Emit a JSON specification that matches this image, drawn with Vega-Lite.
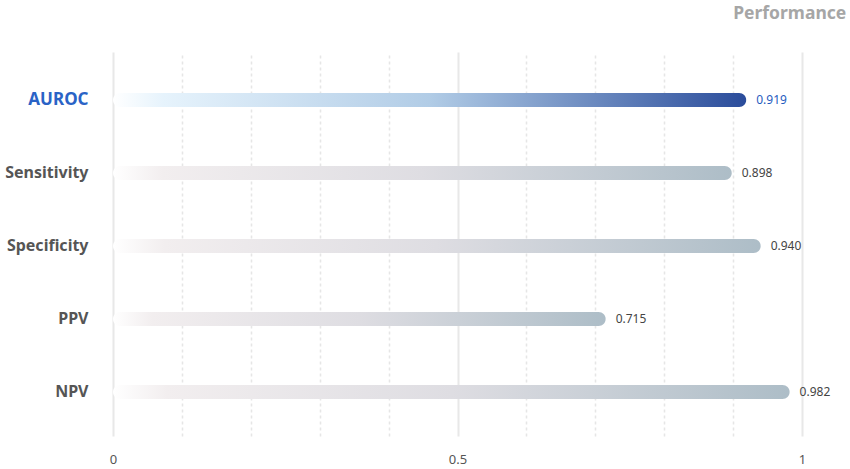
{
  "$schema": "https://vega.github.io/schema/vega-lite/v6.json",
  "autosize": {"type": "none"},
  "padding": {"left": 113, "top": 52, "right": 48, "bottom": 33},
  "width": 689,
  "height": 384,
  "background": "white",
  "title": {
    "text": "Performance",
    "anchor": "end",
    "orient": "top",
    "offset": 30,
    "dx": 16,
    "font": "Noto Sans",
    "fontSize": 17.5,
    "fontWeight": "bold",
    "color": "#a6a6a6"
  },
  "config": {"view": {"stroke": null}},
  "data": {
    "values": [
      {"metric": "AUROC", "value": 0.919},
      {"metric": "Sensitivity", "value": 0.898},
      {"metric": "Specificity", "value": 0.94},
      {"metric": "PPV", "value": 0.715},
      {"metric": "NPV", "value": 0.982}
    ]
  },
  "encoding": {
    "y": {
      "field": "metric",
      "type": "nominal",
      "sort": ["AUROC", "Sensitivity", "Specificity", "PPV", "NPV"],
      "scale": {"paddingInner": 0, "paddingOuter": 0.13},
      "axis": {
        "title": null,
        "domain": false,
        "ticks": false,
        "labelPadding": 25,
        "labelOffset": 2,
        "labelFont": "Noto Sans",
        "labelFontWeight": "bold",
        "labelFontSize": {"condition": {"test": "datum.value === 'AUROC'", "value": 17}, "value": 16},
        "labelColor": {"condition": {"test": "datum.value === 'AUROC'", "value": "#2a63c6"}, "value": "#555555"}
      }
    },
    "x": {
      "field": "value",
      "type": "quantitative",
      "scale": {"domain": [0, 1], "nice": false},
      "axis": {
        "title": null,
        "domain": false,
        "ticks": false,
        "values": [0, 0.1, 0.2, 0.3, 0.4, 0.5, 0.6, 0.7, 0.8, 0.9, 1],
        "labelExpr": "abs(datum.value * 2 - round(datum.value * 2)) < 0.000001 ? format(datum.value, '~g') : ''",
        "labelFont": "Noto Sans",
        "labelFontSize": 13,
        "labelFlush": false,
        "labelColor": "#555555",
        "labelPadding": 17,
        "grid": true,
        "gridColor": {"condition": {"test": "abs(datum.value * 2 - round(datum.value * 2)) < 0.000001", "value": "#e8e8e8"}, "value": "#e6e6e6"},
        "gridWidth": {"condition": {"test": "abs(datum.value * 2 - round(datum.value * 2)) < 0.000001", "value": 2}, "value": 1.6},
        "gridDash": {"condition": {"test": "abs(datum.value * 2 - round(datum.value * 2)) < 0.000001", "value": []}, "value": [3, 3]}
      }
    }
  },
  "layer": [
    {
      "transform": [{"filter": "datum.metric !== 'AUROC'"}],
      "mark": {
        "type": "bar",
        "size": 14,
        "yOffset": 2,
        "cornerRadius": 7,
        "fill": {
          "gradient": "linear",
          "x1": 0, "y1": 0, "x2": 1, "y2": 0,
          "stops": [
            {"offset": 0, "color": "#ffffff"},
            {"offset": 0.08, "color": "#f2eeef"},
            {"offset": 0.5, "color": "#dedde2"},
            {"offset": 1, "color": "#adbdc7"}
          ]
        }
      },
      "encoding": {"x": {"field": "value", "type": "quantitative"}, "x2": {"datum": 0}}
    },
    {
      "transform": [{"filter": "datum.metric === 'AUROC'"}],
      "mark": {
        "type": "bar",
        "size": 14,
        "yOffset": 2,
        "cornerRadius": 7,
        "fill": {
          "gradient": "linear",
          "x1": 0, "y1": 0, "x2": 1, "y2": 0,
          "stops": [
            {"offset": 0, "color": "#ffffff"},
            {"offset": 0.08, "color": "#e6f3fc"},
            {"offset": 0.5, "color": "#b1cce6"},
            {"offset": 1, "color": "#2a4c9b"}
          ]
        }
      },
      "encoding": {"x": {"field": "value", "type": "quantitative"}, "x2": {"datum": 0}}
    },
    {
      "mark": {"type": "text", "align": "left", "baseline": "middle", "dx": 10, "yOffset": 2, "font": "Noto Sans", "fontSize": 12},
      "encoding": {
        "text": {"field": "value", "type": "quantitative", "format": ".3f"},
        "color": {"condition": {"test": "datum.metric === 'AUROC'", "value": "#1f5cc0"}, "value": "#444444"}
      }
    }
  ]
}
